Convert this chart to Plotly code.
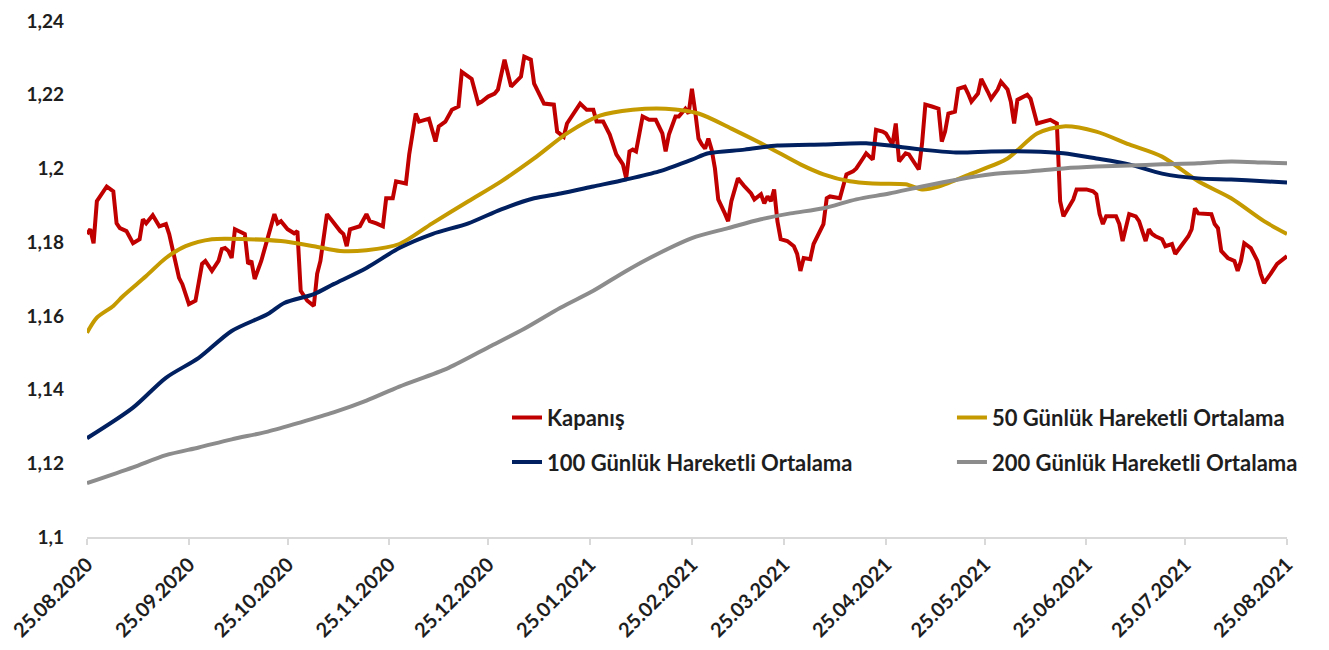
import plotly.graph_objects as go

# ---- Data (EUR/USD, 25.08.2020 - 25.08.2021) ----
close_dates = [
    "2020-08-25","2020-08-26","2020-08-27","2020-08-28","2020-08-31","2020-09-02","2020-09-03","2020-09-04",
    "2020-09-06","2020-09-08","2020-09-10","2020-09-11","2020-09-12","2020-09-14","2020-09-16","2020-09-18",
    "2020-09-19","2020-09-21","2020-09-22","2020-09-23","2020-09-25","2020-09-27","2020-09-29","2020-09-30",
    "2020-10-02","2020-10-04","2020-10-05","2020-10-06","2020-10-07","2020-10-08","2020-10-09","2020-10-12",
    "2020-10-13","2020-10-14","2020-10-15","2020-10-17","2020-10-20","2020-10-21","2020-10-22","2020-10-23",
    "2020-10-25","2020-10-27","2020-10-28","2020-10-29","2020-10-31","2020-11-02","2020-11-03","2020-11-04",
    "2020-11-06","2020-11-08","2020-11-10","2020-11-11","2020-11-12","2020-11-13","2020-11-14","2020-11-16",
    "2020-11-18","2020-11-19","2020-11-21","2020-11-23","2020-11-24","2020-11-26","2020-11-27","2020-11-30",
    "2020-12-01","2020-12-03","2020-12-04","2020-12-07","2020-12-09","2020-12-10","2020-12-12","2020-12-14",
    "2020-12-16","2020-12-17","2020-12-20","2020-12-22","2020-12-23","2020-12-25","2020-12-27","2020-12-28",
    "2020-12-30","2020-12-31","2021-01-01","2021-01-04","2021-01-05","2021-01-07","2021-01-08","2021-01-11",
    "2021-01-14","2021-01-15","2021-01-17","2021-01-18","2021-01-22","2021-01-24","2021-01-26","2021-01-27",
    "2021-01-29","2021-01-31","2021-02-02","2021-02-04","2021-02-05","2021-02-06","2021-02-07","2021-02-08",
    "2021-02-10","2021-02-12","2021-02-14","2021-02-16","2021-02-17","2021-02-18","2021-02-20","2021-02-21",
    "2021-02-23","2021-02-24","2021-02-25","2021-02-26","2021-02-27","2021-02-28","2021-03-01","2021-03-02",
    "2021-03-03","2021-03-04","2021-03-05","2021-03-07","2021-03-08","2021-03-09","2021-03-11","2021-03-13",
    "2021-03-15","2021-03-16","2021-03-18","2021-03-19","2021-03-20","2021-03-21","2021-03-22","2021-03-23",
    "2021-03-24","2021-03-26","2021-03-28","2021-03-29","2021-03-30","2021-03-31","2021-04-02","2021-04-03",
    "2021-04-06","2021-04-07","2021-04-08","2021-04-11","2021-04-13","2021-04-15","2021-04-16","2021-04-18",
    "2021-04-19","2021-04-21","2021-04-22","2021-04-24","2021-04-25","2021-04-27","2021-04-28","2021-04-29",
    "2021-05-01","2021-05-02","2021-05-05","2021-05-06","2021-05-07","2021-05-09","2021-05-11","2021-05-12",
    "2021-05-13","2021-05-14","2021-05-16","2021-05-17","2021-05-19","2021-05-20","2021-05-21","2021-05-23",
    "2021-05-24","2021-05-26","2021-05-27","2021-05-29","2021-05-30","2021-06-01","2021-06-02","2021-06-03",
    "2021-06-04","2021-06-07","2021-06-08","2021-06-10","2021-06-14","2021-06-16","2021-06-17","2021-06-18",
    "2021-06-21","2021-06-22","2021-06-25","2021-06-27","2021-06-28","2021-06-29","2021-06-30","2021-07-01",
    "2021-07-04","2021-07-05","2021-07-06","2021-07-08","2021-07-10","2021-07-11","2021-07-13","2021-07-14",
    "2021-07-15","2021-07-16","2021-07-18","2021-07-19","2021-07-21","2021-07-22","2021-07-23","2021-07-26",
    "2021-07-27","2021-07-28","2021-07-29","2021-08-02","2021-08-03","2021-08-04","2021-08-05","2021-08-07",
    "2021-08-09","2021-08-10","2021-08-11","2021-08-12","2021-08-14","2021-08-16","2021-08-17","2021-08-18",
    "2021-08-20","2021-08-22","2021-08-25",
]
close_values = [
    1.1822,1.1835,1.1797,1.1911,1.1951,1.1938,1.1851,1.1838,
    1.1830,1.1797,1.1808,1.1862,1.1851,1.1873,1.1843,1.1849,
    1.1822,1.1749,1.1703,1.1686,1.1632,1.1641,1.1741,1.1749,
    1.1722,1.1749,1.1781,1.1784,1.1776,1.1757,1.1835,1.1822,
    1.1741,1.1749,1.1700,1.1749,1.1843,1.1876,1.1851,1.1857,
    1.1835,1.1824,1.1830,1.1668,1.1641,1.1627,1.1714,1.1749,
    1.1876,1.1851,1.1830,1.1822,1.1789,1.1835,1.1838,1.1843,
    1.1876,1.1857,1.1851,1.1843,1.1919,1.1919,1.1965,1.1959,
    1.2038,1.2149,1.2127,1.2135,1.2073,1.2114,1.2127,1.2159,
    1.2168,1.2262,1.2243,1.2176,1.2181,1.2195,1.2203,1.2214,
    1.2295,1.2254,1.2222,1.2249,1.2303,1.2295,1.2230,1.2176,
    1.2173,1.2100,1.2086,1.2122,1.2176,1.2159,1.2159,1.2127,
    1.2127,1.2092,1.2038,1.2011,1.1973,1.2046,1.2051,1.2046,
    1.2141,1.2132,1.2132,1.2095,1.2046,1.2092,1.2141,1.2141,
    1.2162,1.2149,1.2216,1.2154,1.2081,1.2065,1.2054,1.2081,
    1.2051,1.2000,1.1916,1.1878,1.1857,1.1911,1.1973,1.1951,
    1.1932,1.1916,1.1930,1.1905,1.1924,1.1911,1.1943,1.1857,
    1.1808,1.1803,1.1789,1.1768,1.1722,1.1757,1.1754,1.1795,
    1.1849,1.1919,1.1924,1.1919,1.1984,1.1992,1.2000,1.2027,
    1.2041,1.2024,1.2105,1.2100,1.2095,1.2065,1.2122,1.2019,
    1.2041,1.2038,1.1997,1.2068,1.2173,1.2168,1.2162,1.2073,
    1.2100,1.2149,1.2154,1.2216,1.2222,1.2203,1.2181,1.2203,
    1.2243,1.2208,1.2189,1.2214,1.2235,1.2214,1.2181,1.2122,
    1.2186,1.2200,1.2189,1.2122,1.2132,1.2122,1.1911,1.1870,
    1.1916,1.1943,1.1943,1.1938,1.1930,1.1876,1.1849,1.1870,
    1.1870,1.1849,1.1803,1.1876,1.1870,1.1857,1.1803,1.1835,
    1.1822,1.1816,1.1808,1.1789,1.1795,1.1768,1.1781,1.1816,
    1.1835,1.1892,1.1878,1.1876,1.1849,1.1838,1.1776,1.1757,
    1.1749,1.1722,1.1749,1.1797,1.1784,1.1749,1.1714,1.1689,
    1.1714,1.1741,1.1762,
]

ma50_dates = [
    "2020-08-25","2020-08-28","2020-09-02","2020-09-05","2020-09-12","2020-09-18","2020-09-24","2020-10-02",
    "2020-10-13","2020-10-23","2020-11-02","2020-11-10","2020-11-18","2020-11-28","2020-12-08","2020-12-19",
    "2020-12-29","2021-01-08","2021-01-18","2021-01-28","2021-02-07","2021-02-17","2021-02-27","2021-03-09",
    "2021-03-20","2021-03-30","2021-04-06","2021-04-14","2021-04-21","2021-05-01","2021-05-06","2021-05-11",
    "2021-05-21","2021-06-01","2021-06-10","2021-06-18","2021-06-28","2021-07-08","2021-07-18","2021-07-29",
    "2021-08-08","2021-08-18","2021-08-25",
]
ma50_values = [
    1.1554,1.1595,1.1627,1.1654,1.1708,1.1757,1.1789,1.1808,
    1.1808,1.1803,1.1789,1.1776,1.1778,1.1795,1.1851,1.1911,
    1.1965,1.2027,1.2095,1.2143,1.2159,1.2162,1.2149,1.2108,
    1.2059,1.2011,1.1984,1.1965,1.1959,1.1957,1.1943,1.1951,
    1.1986,1.2027,1.2095,1.2114,1.2100,1.2065,1.2032,1.1965,
    1.1919,1.1857,1.1822,
]

ma100_dates = [
    "2020-08-25","2020-09-08","2020-09-18","2020-09-28","2020-10-08","2020-10-19","2020-10-24","2020-11-02",
    "2020-11-08","2020-11-18","2020-11-28","2020-12-08","2020-12-19","2020-12-29","2021-01-08","2021-01-16",
    "2021-01-26","2021-02-05","2021-02-15","2021-02-25","2021-03-02","2021-03-13","2021-03-23","2021-04-06",
    "2021-04-19","2021-05-06","2021-05-17","2021-05-27","2021-06-08","2021-06-18","2021-06-28","2021-07-08",
    "2021-07-18","2021-07-29","2021-08-08","2021-08-18","2021-08-25",
]
ma100_values = [
    1.1268,1.1351,1.1432,1.1486,1.1559,1.1605,1.1635,1.1659,
    1.1686,1.1730,1.1784,1.1822,1.1851,1.1889,1.1919,1.1932,
    1.1951,1.1970,1.1992,1.2024,1.2041,1.2051,1.2062,1.2065,
    1.2068,1.2051,1.2043,1.2046,1.2046,1.2041,1.2027,1.2011,
    1.1986,1.1973,1.1970,1.1965,1.1962,
]

ma200_dates = [
    "2020-08-25","2020-09-08","2020-09-18","2020-09-28","2020-10-08","2020-10-19","2020-10-29","2020-11-08",
    "2020-11-18","2020-11-28","2020-12-13","2020-12-26","2021-01-05","2021-01-16","2021-01-26","2021-02-05",
    "2021-02-15","2021-02-25","2021-03-08","2021-03-18","2021-03-27","2021-04-06","2021-04-16","2021-04-26",
    "2021-05-06","2021-05-17","2021-05-27","2021-06-08","2021-06-18","2021-06-28","2021-07-08","2021-07-18",
    "2021-07-29","2021-08-08","2021-08-18","2021-08-25",
]
ma200_values = [
    1.1146,1.1189,1.1222,1.1243,1.1265,1.1286,1.1311,1.1338,
    1.1370,1.1408,1.1459,1.1519,1.1565,1.1622,1.1668,1.1722,
    1.1770,1.1811,1.1838,1.1862,1.1878,1.1892,1.1916,1.1932,
    1.1951,1.1970,1.1984,1.1992,1.2000,1.2005,1.2008,1.2011,
    1.2014,1.2019,1.2016,1.2014,
]

series_names = ["Kapanış", "50 Günlük Hareketli Ortalama",
                "100 Günlük Hareketli Ortalama", "200 Günlük Hareketli Ortalama"]

x_tickvals = ["2020-08-25","2020-09-25","2020-10-25","2020-11-25","2020-12-25","2021-01-25","2021-02-25",
              "2021-03-25","2021-04-25","2021-05-25","2021-06-25","2021-07-25","2021-08-25"]
x_ticktext = ["25.08.2020","25.09.2020","25.10.2020","25.11.2020","25.12.2020","25.01.2021","25.02.2021",
              "25.03.2021","25.04.2021","25.05.2021","25.06.2021","25.07.2021","25.08.2021"]
y_tickvals = [1.10, 1.12, 1.14, 1.16, 1.18, 1.20, 1.22, 1.24]
y_ticktext = ["1,1", "1,12", "1,14", "1,16", "1,18", "1,2", "1,22", "1,24"]

# ---- Styles ----
colors = ["#C00000", "#C49A00", "#002060", "#8C8C8C"]
FONT = "Lato"
TXT = "#1E1E1E"

fig = go.Figure()
data = [(close_dates, close_values), (ma50_dates, ma50_values),
        (ma100_dates, ma100_values), (ma200_dates, ma200_values)]
legends = ["legend", "legend2", "legend", "legend2"]
for i, (xs, ys) in enumerate(data):
    line = dict(color=colors[i], width=4)
    if i > 0:
        line.update(shape="spline", smoothing=0.8)
    fig.add_trace(go.Scatter(
        x=xs, y=ys, mode="lines", name=series_names[i],
        line=line, legend=legends[i], legendgroup=f"g{i}",
    ))

legend_common = dict(
    orientation="v", yanchor="top", xanchor="left",
    font=dict(family=FONT, size=22, color=TXT, weight="bold"),
    bgcolor="rgba(0,0,0,0)", borderwidth=0, tracegroupgap=13,
    itemwidth=30,
)

# page body has an 8px margin, so the figure is 8px smaller on each axis
fig.update_layout(
    width=1321, height=642,
    template="none",
    paper_bgcolor="white", plot_bgcolor="white",
    margin=dict(l=79, r=42, t=13, b=113),
    showlegend=True,
    legend=dict(x=0.35, y=0.272, **legend_common),
    legend2=dict(x=0.7208, y=0.272, **legend_common),
    xaxis=dict(
        type="date",
        range=["2020-08-25", "2021-08-25"],
        tickmode="array", tickvals=x_tickvals, ticktext=x_ticktext,
        tickangle=-45,
        tickfont=dict(family=FONT, size=20, color=TXT, weight="bold"),
        showgrid=False, zeroline=False,
        showline=True, linecolor="#D9D9D9", linewidth=2,
        ticks="outside", ticklen=6, tickwidth=2, tickcolor="#D9D9D9",
        ticklabeloverflow="allow",
        automargin=False,
    ),
    yaxis=dict(
        range=[1.10, 1.24],
        tickmode="array", tickvals=y_tickvals, ticktext=y_ticktext,
        tickfont=dict(family=FONT, size=19, color=TXT, weight="bold"),
        showgrid=False, zeroline=False, showline=False,
        ticks="", ticklabelstandoff=22,
        ticklabeloverflow="allow",
        automargin=False,
    ),
)

fig.write_html("out.html")
